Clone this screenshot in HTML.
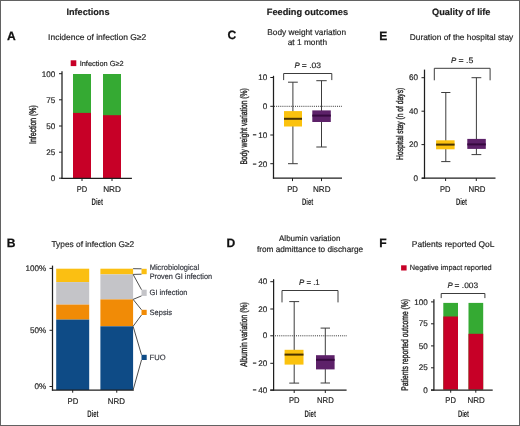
<!DOCTYPE html>
<html><head><meta charset="utf-8"><title>Figure</title>
<style>
html,body{margin:0;padding:0;background:#fff;}
body{width:520px;height:426px;overflow:hidden;}
svg{display:block;font-family:"Liberation Sans",sans-serif;text-rendering:geometricPrecision;will-change:transform;}
</style></head>
<body>
<svg width="520" height="426" viewBox="0 0 520 426">
<rect x="0" y="0" width="520" height="426" fill="#fff"/>
<text x="88" y="15.4" font-size="9.2" text-anchor="middle" font-weight="bold" textLength="43" lengthAdjust="spacingAndGlyphs" fill="#1e1e1e" stroke="#1e1e1e" stroke-width="0.2">Infections</text>
<text x="307.4" y="15.4" font-size="9.2" text-anchor="middle" font-weight="bold" textLength="81.2" lengthAdjust="spacingAndGlyphs" fill="#1e1e1e" stroke="#1e1e1e" stroke-width="0.2">Feeding outcomes</text>
<text x="461.25" y="15.2" font-size="9.2" text-anchor="middle" font-weight="bold" textLength="58.5" lengthAdjust="spacingAndGlyphs" fill="#1e1e1e" stroke="#1e1e1e" stroke-width="0.2">Quality of life</text>
<text x="7" y="39.6" font-size="12.1" font-weight="bold" fill="#111" stroke="#111" stroke-width="0.25">A</text>
<text x="6.8" y="246.7" font-size="12.1" font-weight="bold" fill="#111" stroke="#111" stroke-width="0.25">B</text>
<text x="227.5" y="39.4" font-size="12.1" font-weight="bold" fill="#111" stroke="#111" stroke-width="0.25">C</text>
<text x="226.6" y="246.7" font-size="12.1" font-weight="bold" fill="#111" stroke="#111" stroke-width="0.25">D</text>
<text x="379.3" y="39.8" font-size="12.1" font-weight="bold" fill="#111" stroke="#111" stroke-width="0.25">E</text>
<text x="379.3" y="246.6" font-size="12.1" font-weight="bold" fill="#111" stroke="#111" stroke-width="0.25">F</text>
<text x="48.1" y="39.5" font-size="8.4" textLength="98.1" lengthAdjust="spacingAndGlyphs" fill="#262626" stroke="#262626" stroke-width="0.18">Incidence of infection G≥2</text>
<text x="51.5" y="246.6" font-size="8.3" textLength="82.7" lengthAdjust="spacingAndGlyphs" fill="#262626" stroke="#262626" stroke-width="0.18">Types of infection G≥2</text>
<text x="306.65" y="34.7" font-size="8.3" text-anchor="middle" textLength="78.7" lengthAdjust="spacingAndGlyphs" fill="#262626" stroke="#262626" stroke-width="0.18">Body weight variation</text>
<text x="307.4" y="44.7" font-size="8.3" text-anchor="middle" textLength="39.4" lengthAdjust="spacingAndGlyphs" fill="#262626" stroke="#262626" stroke-width="0.18">at 1 month</text>
<text x="309.75" y="241" font-size="8.1" text-anchor="middle" textLength="61.5" lengthAdjust="spacingAndGlyphs" fill="#262626" stroke="#262626" stroke-width="0.18">Albumin variation</text>
<text x="310.05" y="251.6" font-size="8.25" text-anchor="middle" textLength="106.3" lengthAdjust="spacingAndGlyphs" fill="#262626" stroke="#262626" stroke-width="0.18">from admittance to discharge</text>
<text x="409.8" y="39.8" font-size="8.3" textLength="103.4" lengthAdjust="spacingAndGlyphs" fill="#262626" stroke="#262626" stroke-width="0.18">Duration of the hospital stay</text>
<text x="411.8" y="246.9" font-size="8.4" textLength="82.7" lengthAdjust="spacingAndGlyphs" fill="#262626" stroke="#262626" stroke-width="0.18">Patients reported QoL</text>
<rect x="70.7" y="60.3" width="5.6" height="5.8" fill="#c70027"/>
<text x="79.7" y="65.9" font-size="7.4" textLength="43.9" lengthAdjust="spacingAndGlyphs" fill="#262626" stroke="#262626" stroke-width="0.18">Infection G≥2</text>
<rect x="73" y="74" width="18" height="104" fill="#35aa33"/>
<rect x="73" y="112.9" width="18" height="65.1" fill="#c70027"/>
<rect x="103" y="74" width="18" height="104" fill="#35aa33"/>
<rect x="103" y="115.2" width="18" height="62.8" fill="#c70027"/>
<line x1="62.0" y1="71.3" x2="62.0" y2="178.9" stroke="#1e1e1e" stroke-width="1.25"/>
<line x1="61.4" y1="178.3" x2="131.9" y2="178.3" stroke="#1e1e1e" stroke-width="1.25"/>
<line x1="59" y1="73.7" x2="62.0" y2="73.7" stroke="#1e1e1e" stroke-width="1"/>
<text x="55.3" y="76.55" font-size="8.1" text-anchor="end" fill="#262626" stroke="#262626" stroke-width="0.18">100</text>
<line x1="59" y1="99.8" x2="62.0" y2="99.8" stroke="#1e1e1e" stroke-width="1"/>
<text x="55.3" y="102.64999999999999" font-size="8.1" text-anchor="end" fill="#262626" stroke="#262626" stroke-width="0.18">75</text>
<line x1="59" y1="126" x2="62.0" y2="126" stroke="#1e1e1e" stroke-width="1"/>
<text x="55.3" y="128.85" font-size="8.1" text-anchor="end" fill="#262626" stroke="#262626" stroke-width="0.18">50</text>
<line x1="59" y1="152.2" x2="62.0" y2="152.2" stroke="#1e1e1e" stroke-width="1"/>
<text x="55.3" y="155.04999999999998" font-size="8.1" text-anchor="end" fill="#262626" stroke="#262626" stroke-width="0.18">25</text>
<line x1="59" y1="178.2" x2="62.0" y2="178.2" stroke="#1e1e1e" stroke-width="1"/>
<text x="55.3" y="181.04999999999998" font-size="8.1" text-anchor="end" fill="#262626" stroke="#262626" stroke-width="0.18">0</text>
<line x1="82" y1="178.3" x2="82" y2="181" stroke="#1e1e1e" stroke-width="1"/>
<line x1="112" y1="178.3" x2="112" y2="181" stroke="#1e1e1e" stroke-width="1"/>
<text x="0" y="0" font-size="9.6" font-weight="normal" text-anchor="middle" textLength="38.7" lengthAdjust="spacingAndGlyphs" fill="#262626" stroke="#262626" stroke-width="0.4" transform="translate(36,124.55) rotate(-90)">Infection (%)</text>
<rect x="56.2" y="268.7" width="33" height="13.400000000000034" fill="#fbbf12"/>
<rect x="56.2" y="282.1" width="33" height="22.5" fill="#c4c4c8"/>
<rect x="56.2" y="304.6" width="33" height="15.0" fill="#f18b06"/>
<rect x="56.2" y="319.6" width="33" height="70.39999999999998" fill="#0e4b86"/>
<rect x="100.4" y="268.7" width="32.7" height="5.699999999999989" fill="#fbbf12"/>
<rect x="100.4" y="274.4" width="32.7" height="25.0" fill="#c4c4c8"/>
<rect x="100.4" y="299.4" width="32.7" height="26.900000000000034" fill="#f18b06"/>
<rect x="100.4" y="326.3" width="32.7" height="63.69999999999999" fill="#0e4b86"/>
<line x1="52.5" y1="265.6" x2="52.5" y2="390.6" stroke="#1e1e1e" stroke-width="1.25"/>
<line x1="51.9" y1="390.0" x2="133.8" y2="390.0" stroke="#1e1e1e" stroke-width="1.25"/>
<line x1="49.5" y1="268.4" x2="52.5" y2="268.4" stroke="#1e1e1e" stroke-width="1"/>
<text x="46.2" y="271.09999999999997" font-size="8.1" text-anchor="end" fill="#262626" stroke="#262626" stroke-width="0.18">100%</text>
<line x1="49.5" y1="330.3" x2="52.5" y2="330.3" stroke="#1e1e1e" stroke-width="1"/>
<text x="46.2" y="333.0" font-size="8.1" text-anchor="end" fill="#262626" stroke="#262626" stroke-width="0.18">50%</text>
<line x1="49.5" y1="386.5" x2="52.5" y2="386.5" stroke="#1e1e1e" stroke-width="1"/>
<text x="46.2" y="389.2" font-size="8.1" text-anchor="end" fill="#262626" stroke="#262626" stroke-width="0.18">0%</text>
<line x1="72.7" y1="390.0" x2="72.7" y2="392.7" stroke="#1e1e1e" stroke-width="1"/>
<line x1="116.75" y1="390.0" x2="116.75" y2="392.7" stroke="#1e1e1e" stroke-width="1"/>
<rect x="141.5" y="268.8" width="5.2" height="5.399999999999977" fill="#fbbf12"/>
<rect x="141.5" y="289.7" width="5.2" height="6.199999999999989" fill="#c4c4c8"/>
<rect x="141.5" y="309.8" width="5.2" height="5.199999999999989" fill="#f18b06"/>
<rect x="141.5" y="354.8" width="5.2" height="5.199999999999989" fill="#0e4b86"/>
<line x1="133.1" y1="268.7" x2="141.5" y2="268.8" stroke="#444" stroke-width="0.95"/>
<line x1="133.1" y1="274.4" x2="141.5" y2="274.2" stroke="#444" stroke-width="0.95"/>
<line x1="133.1" y1="274.4" x2="141.5" y2="289.7" stroke="#444" stroke-width="0.95"/>
<line x1="133.1" y1="299.4" x2="141.5" y2="295.9" stroke="#444" stroke-width="0.95"/>
<line x1="133.1" y1="299.4" x2="141.5" y2="309.8" stroke="#444" stroke-width="0.95"/>
<line x1="133.1" y1="326.3" x2="141.5" y2="315" stroke="#444" stroke-width="0.95"/>
<line x1="133.1" y1="326.3" x2="141.5" y2="354.8" stroke="#444" stroke-width="0.95"/>
<line x1="133.1" y1="390" x2="141.5" y2="360" stroke="#444" stroke-width="0.95"/>
<text x="149.7" y="270" font-size="7.8" textLength="49.5" lengthAdjust="spacingAndGlyphs" fill="#34373f" stroke="#34373f" stroke-width="0.18">Microbiological</text>
<text x="149.7" y="278.6" font-size="7.8" textLength="62.4" lengthAdjust="spacingAndGlyphs" fill="#34373f" stroke="#34373f" stroke-width="0.18">Proven GI infection</text>
<text x="149.6" y="295.2" font-size="7.7" textLength="37.9" lengthAdjust="spacingAndGlyphs" fill="#34373f" stroke="#34373f" stroke-width="0.18">GI infection</text>
<text x="149.6" y="314.5" font-size="7.7" textLength="22.5" lengthAdjust="spacingAndGlyphs" fill="#34373f" stroke="#34373f" stroke-width="0.18">Sepsis</text>
<text x="149.6" y="359.6" font-size="7.7" textLength="16" lengthAdjust="spacingAndGlyphs" fill="#34373f" stroke="#34373f" stroke-width="0.18">FUO</text>
<line x1="273.5" y1="75.8" x2="273.5" y2="178.6" stroke="#1e1e1e" stroke-width="1.25"/>
<line x1="272.9" y1="178.0" x2="342" y2="178.0" stroke="#1e1e1e" stroke-width="1.25"/>
<line x1="270.3" y1="77.5" x2="273.5" y2="77.5" stroke="#1e1e1e" stroke-width="1"/>
<text x="267.3" y="80.1" font-size="8.1" text-anchor="end" fill="#262626" stroke="#262626" stroke-width="0.18">10</text>
<line x1="270.3" y1="106.3" x2="273.5" y2="106.3" stroke="#1e1e1e" stroke-width="1"/>
<text x="267.3" y="108.89999999999999" font-size="8.1" text-anchor="end" fill="#262626" stroke="#262626" stroke-width="0.18">0</text>
<line x1="270.3" y1="135" x2="273.5" y2="135" stroke="#1e1e1e" stroke-width="1"/>
<text x="267.3" y="137.6" font-size="8.1" text-anchor="end" fill="#262626" stroke="#262626" stroke-width="0.18">10</text>
<line x1="252.9" y1="134.79999999999998" x2="256.3" y2="134.79999999999998" stroke="#262626" stroke-width="1.15"/>
<line x1="270.3" y1="163.7" x2="273.5" y2="163.7" stroke="#1e1e1e" stroke-width="1"/>
<text x="267.3" y="166.89999999999998" font-size="8.1" text-anchor="end" fill="#262626" stroke="#262626" stroke-width="0.18">20</text>
<line x1="252.9" y1="164.09999999999997" x2="256.3" y2="164.09999999999997" stroke="#262626" stroke-width="1.15"/>
<line x1="274" y1="106.3" x2="342" y2="106.3" stroke="#333" stroke-width="1" stroke-dasharray="1,1.1"/>
<line x1="292.5" y1="178.0" x2="292.5" y2="181.1" stroke="#1e1e1e" stroke-width="1"/>
<line x1="321.5" y1="178.0" x2="321.5" y2="181.1" stroke="#1e1e1e" stroke-width="1"/>
<polyline points="283.65,80.1 283.65,73.5 331.8,73.5 331.8,80.1" fill="none" stroke="#3c3c3c" stroke-width="1"/>
<text x="294.5" y="68.4" font-size="7.9" font-style="italic" fill="#262626" stroke="#262626" stroke-width="0.18">P</text>
<text x="301.8" y="68.4" font-size="7.9" textLength="19.2" lengthAdjust="spacingAndGlyphs" fill="#262626" stroke="#262626" stroke-width="0.18">= .03</text>
<line x1="292.9" y1="82.2" x2="292.9" y2="163.7" stroke="#3c3c3c" stroke-width="1"/>
<line x1="288.0" y1="82.2" x2="297.79999999999995" y2="82.2" stroke="#3c3c3c" stroke-width="1"/>
<line x1="288.0" y1="163.7" x2="297.79999999999995" y2="163.7" stroke="#3c3c3c" stroke-width="1"/>
<rect x="284" y="111.1" width="18" height="15.400000000000006" fill="#fbc20e"/>
<line x1="284" y1="118.8" x2="302" y2="118.8" stroke="#4a3300" stroke-width="2"/>
<line x1="321.5" y1="80.7" x2="321.5" y2="147" stroke="#3c3c3c" stroke-width="1"/>
<line x1="316.3" y1="80.7" x2="326.7" y2="80.7" stroke="#3c3c3c" stroke-width="1"/>
<line x1="316.3" y1="147" x2="326.7" y2="147" stroke="#3c3c3c" stroke-width="1"/>
<rect x="312.3" y="110.4" width="18.5" height="11.599999999999994" fill="#5d2169"/>
<line x1="312.3" y1="115.6" x2="330.8" y2="115.6" stroke="#36093f" stroke-width="2"/>
<text x="0" y="0" font-size="9.6" font-weight="normal" text-anchor="middle" textLength="76.3" lengthAdjust="spacingAndGlyphs" fill="#262626" stroke="#262626" stroke-width="0.4" transform="translate(246.8,126.45) rotate(-90)">Body weight variation (%)</text>
<line x1="273.6" y1="279.2" x2="273.6" y2="390.7" stroke="#1e1e1e" stroke-width="1.25"/>
<line x1="270.2" y1="390.1" x2="346.6" y2="390.1" stroke="#1e1e1e" stroke-width="1.25"/>
<line x1="270.3" y1="281.7" x2="273.6" y2="281.7" stroke="#1e1e1e" stroke-width="1"/>
<text x="267.3" y="284.3" font-size="8.1" text-anchor="end" fill="#262626" stroke="#262626" stroke-width="0.18">40</text>
<line x1="270.3" y1="309" x2="273.6" y2="309" stroke="#1e1e1e" stroke-width="1"/>
<text x="267.3" y="311.6" font-size="8.1" text-anchor="end" fill="#262626" stroke="#262626" stroke-width="0.18">20</text>
<line x1="270.3" y1="335.8" x2="273.6" y2="335.8" stroke="#1e1e1e" stroke-width="1"/>
<text x="267.3" y="338.40000000000003" font-size="8.1" text-anchor="end" fill="#262626" stroke="#262626" stroke-width="0.18">0</text>
<line x1="270.3" y1="363.3" x2="273.6" y2="363.3" stroke="#1e1e1e" stroke-width="1"/>
<text x="267.3" y="365.90000000000003" font-size="8.1" text-anchor="end" fill="#262626" stroke="#262626" stroke-width="0.18">20</text>
<line x1="252.9" y1="363.1" x2="256.3" y2="363.1" stroke="#262626" stroke-width="1.15"/>
<line x1="270.3" y1="390.1" x2="273.6" y2="390.1" stroke="#1e1e1e" stroke-width="1"/>
<text x="267.3" y="392.70000000000005" font-size="8.1" text-anchor="end" fill="#262626" stroke="#262626" stroke-width="0.18">40</text>
<line x1="252.9" y1="389.90000000000003" x2="256.3" y2="389.90000000000003" stroke="#262626" stroke-width="1.15"/>
<line x1="275" y1="335.8" x2="347" y2="335.8" stroke="#333" stroke-width="1" stroke-dasharray="1,1.1"/>
<line x1="294.2" y1="390.1" x2="294.2" y2="393" stroke="#1e1e1e" stroke-width="1"/>
<line x1="325.3" y1="390.1" x2="325.3" y2="393" stroke="#1e1e1e" stroke-width="1"/>
<polyline points="282.0,302.4 282.0,290.5 338.0,290.5 338.0,302.4" fill="none" stroke="#3c3c3c" stroke-width="1"/>
<text x="298.9" y="284.7" font-size="7.9" font-style="italic" fill="#262626" stroke="#262626" stroke-width="0.18">P</text>
<text x="306.4" y="284.7" font-size="7.9" textLength="13.3" lengthAdjust="spacingAndGlyphs" fill="#262626" stroke="#262626" stroke-width="0.18">= .1</text>
<line x1="294.2" y1="301.6" x2="294.2" y2="383.1" stroke="#3c3c3c" stroke-width="1"/>
<line x1="289.25" y1="301.6" x2="299.15" y2="301.6" stroke="#3c3c3c" stroke-width="1"/>
<line x1="289.25" y1="383.1" x2="299.15" y2="383.1" stroke="#3c3c3c" stroke-width="1"/>
<rect x="284.6" y="349.8" width="18.899999999999977" height="14.800000000000011" fill="#fbc20e"/>
<line x1="284.6" y1="354.6" x2="303.5" y2="354.6" stroke="#4a3300" stroke-width="2"/>
<line x1="325.3" y1="328.1" x2="325.3" y2="383" stroke="#3c3c3c" stroke-width="1"/>
<line x1="320.6" y1="328.1" x2="330.0" y2="328.1" stroke="#3c3c3c" stroke-width="1"/>
<line x1="320.6" y1="383" x2="330.0" y2="383" stroke="#3c3c3c" stroke-width="1"/>
<rect x="316" y="355.2" width="18.600000000000023" height="14.199999999999989" fill="#5d2169"/>
<line x1="316" y1="359.8" x2="334.6" y2="359.8" stroke="#36093f" stroke-width="2"/>
<text x="0" y="0" font-size="9.6" font-weight="normal" text-anchor="middle" textLength="64.5" lengthAdjust="spacingAndGlyphs" fill="#262626" stroke="#262626" stroke-width="0.4" transform="translate(247.1,334.55) rotate(-90)">Albumin variation (%)</text>
<line x1="424.5" y1="69.6" x2="424.5" y2="178.8" stroke="#1e1e1e" stroke-width="1.25"/>
<line x1="421.8" y1="178.2" x2="495.5" y2="178.2" stroke="#1e1e1e" stroke-width="1.25"/>
<line x1="421.5" y1="77.7" x2="424.5" y2="77.7" stroke="#1e1e1e" stroke-width="1"/>
<text x="418.1" y="80.3" font-size="8.1" text-anchor="end" fill="#262626" stroke="#262626" stroke-width="0.18">60</text>
<line x1="421.5" y1="111.2" x2="424.5" y2="111.2" stroke="#1e1e1e" stroke-width="1"/>
<text x="418.1" y="113.8" font-size="8.1" text-anchor="end" fill="#262626" stroke="#262626" stroke-width="0.18">40</text>
<line x1="421.5" y1="144.6" x2="424.5" y2="144.6" stroke="#1e1e1e" stroke-width="1"/>
<text x="418.1" y="147.2" font-size="8.1" text-anchor="end" fill="#262626" stroke="#262626" stroke-width="0.18">20</text>
<line x1="421.5" y1="178.2" x2="424.5" y2="178.2" stroke="#1e1e1e" stroke-width="1"/>
<text x="418.1" y="180.79999999999998" font-size="8.1" text-anchor="end" fill="#262626" stroke="#262626" stroke-width="0.18">0</text>
<line x1="445.6" y1="178.2" x2="445.6" y2="181" stroke="#1e1e1e" stroke-width="1"/>
<line x1="476.3" y1="178.2" x2="476.3" y2="181" stroke="#1e1e1e" stroke-width="1"/>
<polyline points="434.3,80.3 434.3,68.3 490.1,68.3 490.1,80.3" fill="none" stroke="#3c3c3c" stroke-width="1"/>
<text x="451.1" y="62.8" font-size="7.9" font-style="italic" fill="#262626" stroke="#262626" stroke-width="0.18">P</text>
<text x="458.6" y="62.8" font-size="7.9" textLength="14.8" lengthAdjust="spacingAndGlyphs" fill="#262626" stroke="#262626" stroke-width="0.18">= .5</text>
<line x1="445.8" y1="92.5" x2="445.8" y2="161.6" stroke="#3c3c3c" stroke-width="1"/>
<line x1="441.2" y1="92.5" x2="450.40000000000003" y2="92.5" stroke="#3c3c3c" stroke-width="1"/>
<line x1="441.2" y1="161.6" x2="450.40000000000003" y2="161.6" stroke="#3c3c3c" stroke-width="1"/>
<rect x="436.1" y="140.3" width="18.5" height="9.0" fill="#fbc20e"/>
<line x1="436.1" y1="144.6" x2="454.6" y2="144.6" stroke="#4a3300" stroke-width="2"/>
<line x1="476.4" y1="77.7" x2="476.4" y2="154.6" stroke="#3c3c3c" stroke-width="1"/>
<line x1="471.5" y1="77.7" x2="481.29999999999995" y2="77.7" stroke="#3c3c3c" stroke-width="1"/>
<line x1="471.5" y1="154.6" x2="481.29999999999995" y2="154.6" stroke="#3c3c3c" stroke-width="1"/>
<rect x="467.3" y="138.9" width="18.5" height="10.0" fill="#5d2169"/>
<line x1="467.3" y1="144.4" x2="485.8" y2="144.4" stroke="#36093f" stroke-width="2"/>
<text x="0" y="0" font-size="9.6" font-weight="normal" text-anchor="middle" textLength="72.2" lengthAdjust="spacingAndGlyphs" fill="#262626" stroke="#262626" stroke-width="0.4" transform="translate(403.1,123.8) rotate(-90)">Hospital stay (n of days)</text>
<rect x="401.1" y="265.3" width="5.5" height="5.2" fill="#c70027"/>
<text x="409.8" y="269.9" font-size="7.6" textLength="81.8" lengthAdjust="spacingAndGlyphs" fill="#262626" stroke="#262626" stroke-width="0.18">Negative impact reported</text>
<rect x="443.3" y="302.9" width="14.7" height="86.7" fill="#35aa33"/>
<rect x="443.3" y="316.5" width="14.7" height="73.1" fill="#c70027"/>
<rect x="468.5" y="302.9" width="14.7" height="86.7" fill="#35aa33"/>
<rect x="468.5" y="333.8" width="14.7" height="55.8" fill="#c70027"/>
<line x1="433.9" y1="299.2" x2="433.9" y2="390.6" stroke="#1e1e1e" stroke-width="1.25"/>
<line x1="431" y1="390.0" x2="492.7" y2="390.0" stroke="#1e1e1e" stroke-width="1.25"/>
<line x1="431" y1="301.9" x2="433.9" y2="301.9" stroke="#1e1e1e" stroke-width="1"/>
<text x="427.7" y="304.5" font-size="8.1" text-anchor="end" fill="#262626" stroke="#262626" stroke-width="0.18">100</text>
<line x1="431" y1="323.8" x2="433.9" y2="323.8" stroke="#1e1e1e" stroke-width="1"/>
<text x="427.7" y="326.40000000000003" font-size="8.1" text-anchor="end" fill="#262626" stroke="#262626" stroke-width="0.18">75</text>
<line x1="431" y1="345.9" x2="433.9" y2="345.9" stroke="#1e1e1e" stroke-width="1"/>
<text x="427.7" y="348.5" font-size="8.1" text-anchor="end" fill="#262626" stroke="#262626" stroke-width="0.18">50</text>
<line x1="431" y1="367.8" x2="433.9" y2="367.8" stroke="#1e1e1e" stroke-width="1"/>
<text x="427.7" y="370.40000000000003" font-size="8.1" text-anchor="end" fill="#262626" stroke="#262626" stroke-width="0.18">25</text>
<line x1="431" y1="390.0" x2="433.9" y2="390.0" stroke="#1e1e1e" stroke-width="1"/>
<text x="427.7" y="392.6" font-size="8.1" text-anchor="end" fill="#262626" stroke="#262626" stroke-width="0.18">0</text>
<line x1="450.7" y1="390.0" x2="450.7" y2="392.7" stroke="#1e1e1e" stroke-width="1"/>
<line x1="475.8" y1="390.0" x2="475.8" y2="392.7" stroke="#1e1e1e" stroke-width="1"/>
<polyline points="441.2,298.1 441.2,293.5 484.9,293.5 484.9,298.1" fill="none" stroke="#3c3c3c" stroke-width="1"/>
<text x="447.6" y="288" font-size="7.9" font-style="italic" fill="#262626" stroke="#262626" stroke-width="0.18">P</text>
<text x="454.6" y="288" font-size="7.9" textLength="23.6" lengthAdjust="spacingAndGlyphs" fill="#262626" stroke="#262626" stroke-width="0.18">= .003</text>
<text x="0" y="0" font-size="9.6" font-weight="normal" text-anchor="middle" textLength="91.8" lengthAdjust="spacingAndGlyphs" fill="#262626" stroke="#262626" stroke-width="0.4" transform="translate(408,344.8) rotate(-90)">Patients reported outcome (%)</text>
<text x="76.8" y="191.5" font-size="8.2" textLength="10.4" lengthAdjust="spacingAndGlyphs" fill="#262626" stroke="#262626" stroke-width="0.18">PD</text>
<text x="103.2" y="191.5" font-size="8.2" textLength="17.8" lengthAdjust="spacingAndGlyphs" fill="#262626" stroke="#262626" stroke-width="0.18">NRD</text>
<text x="91.5" y="204.7" font-size="9.6" font-weight="bold" textLength="11.5" lengthAdjust="spacingAndGlyphs" fill="#262626" stroke="#262626" stroke-width="0">Diet</text>
<text x="67.5" y="403.5" font-size="8.2" textLength="10.8" lengthAdjust="spacingAndGlyphs" fill="#262626" stroke="#262626" stroke-width="0.18">PD</text>
<text x="107.8" y="403.5" font-size="8.2" textLength="17.2" lengthAdjust="spacingAndGlyphs" fill="#262626" stroke="#262626" stroke-width="0.18">NRD</text>
<text x="87.2" y="416.7" font-size="9.6" font-weight="bold" textLength="11.3" lengthAdjust="spacingAndGlyphs" fill="#262626" stroke="#262626" stroke-width="0">Diet</text>
<text x="287.2" y="191.5" font-size="8.2" textLength="10.8" lengthAdjust="spacingAndGlyphs" fill="#262626" stroke="#262626" stroke-width="0.18">PD</text>
<text x="313" y="191.5" font-size="8.2" textLength="17.5" lengthAdjust="spacingAndGlyphs" fill="#262626" stroke="#262626" stroke-width="0.18">NRD</text>
<text x="302" y="204.7" font-size="9.6" font-weight="bold" textLength="11.3" lengthAdjust="spacingAndGlyphs" fill="#262626" stroke="#262626" stroke-width="0">Diet</text>
<text x="289" y="403.4" font-size="8.2" textLength="10.6" lengthAdjust="spacingAndGlyphs" fill="#262626" stroke="#262626" stroke-width="0.18">PD</text>
<text x="317" y="403.4" font-size="8.2" textLength="16.8" lengthAdjust="spacingAndGlyphs" fill="#262626" stroke="#262626" stroke-width="0.18">NRD</text>
<text x="304.5" y="416.7" font-size="9.6" font-weight="bold" textLength="11.5" lengthAdjust="spacingAndGlyphs" fill="#262626" stroke="#262626" stroke-width="0">Diet</text>
<text x="440" y="191.5" font-size="8.2" textLength="10.5" lengthAdjust="spacingAndGlyphs" fill="#262626" stroke="#262626" stroke-width="0.18">PD</text>
<text x="468.5" y="191.5" font-size="8.2" textLength="17.0" lengthAdjust="spacingAndGlyphs" fill="#262626" stroke="#262626" stroke-width="0.18">NRD</text>
<text x="455.9" y="204.7" font-size="9.6" font-weight="bold" textLength="11.2" lengthAdjust="spacingAndGlyphs" fill="#262626" stroke="#262626" stroke-width="0">Diet</text>
<text x="445.3" y="403.2" font-size="8.2" textLength="10.6" lengthAdjust="spacingAndGlyphs" fill="#262626" stroke="#262626" stroke-width="0.18">PD</text>
<text x="467.4" y="403.2" font-size="8.2" textLength="17.3" lengthAdjust="spacingAndGlyphs" fill="#262626" stroke="#262626" stroke-width="0.18">NRD</text>
<text x="457.9" y="416.7" font-size="9.6" font-weight="bold" textLength="11.2" lengthAdjust="spacingAndGlyphs" fill="#262626" stroke="#262626" stroke-width="0">Diet</text>
<rect x="0.5" y="0.5" width="519" height="425" fill="none" stroke="#626262" stroke-width="1"/>
</svg>
</body></html>
